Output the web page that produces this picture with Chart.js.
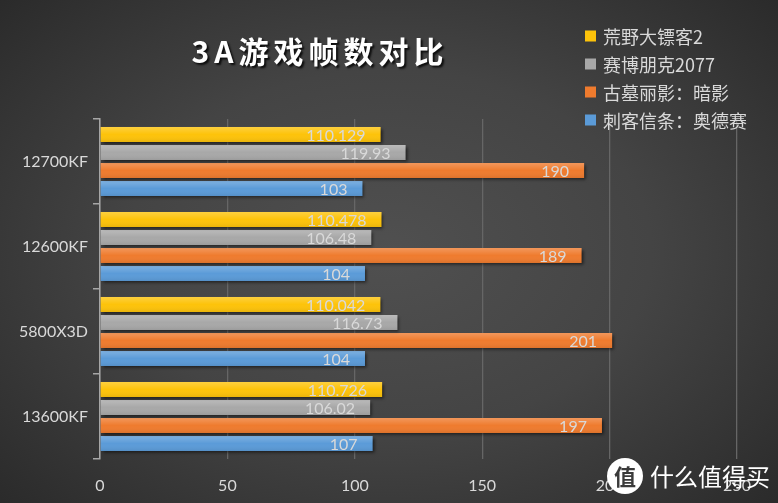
<!DOCTYPE html>
<html>
<head>
<meta charset="utf-8">
<script src="https://cdn.jsdelivr.net/npm/chart.js@4.4.0/dist/chart.umd.min.js"></script>
<style>
html,body{margin:0;padding:0;}
body{width:778px;height:503px;overflow:hidden;}
#wrap{position:relative;width:778px;height:503px;
  background:radial-gradient(ellipse 75% 80% at 50% 50%, #505050 0%, #444444 45%, #2e2e2e 85%, #262626 100%);}
canvas{display:block;}
</style>
</head>
<body>
<div id="wrap"><canvas id="c" width="778" height="503"></canvas></div>
<script>
const titleText = '3A游戏帧数对比';
const categories = ['12700KF', '12600KF', '5800X3D', '13600KF'];
const seriesNames = ['荒野大镖客2', '赛博朋克2077', '古墓丽影：暗影', '刺客信条：奥德赛'];
const rdr2 = [110.129, 110.478, 110.042, 110.726];
const cyberpunk = [119.93, 106.48, 116.73, 106.02];
const tombRaider = [190, 189, 201, 197];
const odyssey = [103, 104, 104, 107];
const xTicks = [0, 50, 100, 150, 200, 250];
const seriesColors = ['#fdc30a', '#a8a8a8', '#ef7b2e', '#5b9bd8'];
const seriesData = [rdr2, cyberpunk, tombRaider, odyssey];

const FONT = 'Lato, "Noto Sans CJK SC", sans-serif';

const shadowPlugin = {
  id: 'barShadow',
  beforeDatasetsDraw(chart) {
    const ctx = chart.ctx;
    ctx.save();
    ctx.shadowColor = 'rgba(0,0,0,0.55)';
    ctx.shadowOffsetX = 2;
    ctx.shadowOffsetY = 2;
    ctx.shadowBlur = 3;
  },
  afterDatasetsDraw(chart) {
    chart.ctx.restore();
    const ctx = chart.ctx;
    // gloss gradient overlay on each bar
    ctx.save();
    chart.data.datasets.forEach((ds, di) => {
      const meta = chart.getDatasetMeta(di);
      meta.data.forEach((bar) => {
        const h = bar.height;
        const top = bar.y - h / 2;
        const g = ctx.createLinearGradient(0, top, 0, top + h);
        g.addColorStop(0, 'rgba(255,255,255,0.22)');
        g.addColorStop(0.5, 'rgba(255,255,255,0.0)');
        g.addColorStop(1, 'rgba(0,0,0,0.08)');
        ctx.fillStyle = g;
        ctx.fillRect(bar.base, top, bar.x - bar.base, h);
      });
    });
    ctx.restore();
    // value labels
    ctx.save();
    ctx.font = '16px ' + FONT;
    ctx.fillStyle = '#d9d9d9';
    ctx.textAlign = 'right';
    ctx.textBaseline = 'middle';
    chart.data.datasets.forEach((ds, di) => {
      const meta = chart.getDatasetMeta(di);
      meta.data.forEach((bar, i) => {
        ctx.fillText(String(ds.data[i]), bar.x - 15, bar.y + 1);
      });
    });
    ctx.restore();
  }
};

const decorPlugin = {
  id: 'decor',
  afterDraw(chart) {
    const ctx = chart.ctx;
    // title
    ctx.save();
    ctx.font = 'bold 30px "Noto Sans CJK SC", sans-serif';
    ctx.letterSpacing = '5px';
    ctx.textAlign = 'center';
    ctx.textBaseline = 'middle';
    ctx.shadowColor = 'rgba(0,0,0,0.8)';
    ctx.shadowOffsetX = 2;
    ctx.shadowOffsetY = 2;
    ctx.shadowBlur = 2;
    ctx.fillStyle = '#ffffff';
    ctx.fillText(titleText, 320, 52);
    ctx.restore();
    // legend
    ctx.save();
    ctx.font = '18px "Noto Sans CJK SC", sans-serif';
    ctx.textBaseline = 'middle';
    chart.data.datasets.forEach((ds, i) => {
      const y = 36 + i * 28;
      ctx.fillStyle = ds.backgroundColor;
      ctx.fillRect(585, y - 5.5, 11, 11);
      ctx.fillStyle = '#d9d9d9';
      ctx.fillText(ds.label, 603, y + 1);
    });
    ctx.restore();
    // watermark
    ctx.save();
    ctx.fillStyle = '#ffffff';
    ctx.beginPath();
    ctx.arc(625, 476, 18, 0, Math.PI * 2);
    ctx.fill();
    ctx.fillStyle = '#3a3a3a';
    ctx.font = 'bold 22px "Noto Sans CJK SC", sans-serif';
    ctx.textAlign = 'center';
    ctx.textBaseline = 'middle';
    ctx.fillText('值', 625, 477);
    ctx.fillStyle = '#ffffff';
    ctx.textAlign = 'left';
    ctx.font = '24px "Noto Sans CJK SC", sans-serif';
    ctx.fillText('什么值得买', 650, 477);
    ctx.restore();
  }
};

new Chart(document.getElementById('c'), {
  type: 'bar',
  data: {
    labels: categories,
    datasets: seriesNames.map((name, i) => ({
      label: name,
      data: seriesData[i],
      backgroundColor: seriesColors[i],
      borderWidth: 0,
      categoryPercentage: 0.85,
      barPercentage: 0.83
    }))
  },
  options: {
    indexAxis: 'y',
    responsive: false,
    animation: false,
    layout: { padding: { top: 119, right: 41, left: 0, bottom: 0 } },
    plugins: { legend: { display: false }, title: { display: false }, tooltip: { enabled: false } },
    scales: {
      x: {
        min: 0, max: 250,
        afterBuildTicks(scale) { scale.ticks = xTicks.map(v => ({ value: v })); },
        afterFit(scale) { scale.height = 44; },
        grid: { color: '#666666', lineWidth: 1.3, drawTicks: false },
        border: { display: false },
        ticks: { color: '#d9d9d9', font: { family: FONT, size: 16 }, padding: 17 }
      },
      y: {
        afterFit(scale) { scale.width = 100; },
        grid: { drawOnChartArea: false, drawTicks: true, tickLength: 7, color: '#a6a6a6', lineWidth: 1.5 },
        border: { display: true, color: '#a6a6a6', width: 1.5 },
        ticks: { color: '#d9d9d9', font: { family: FONT, size: 16 }, padding: 5 }
      }
    }
  },
  plugins: [shadowPlugin, decorPlugin]
});
</script>
</body>
</html>
